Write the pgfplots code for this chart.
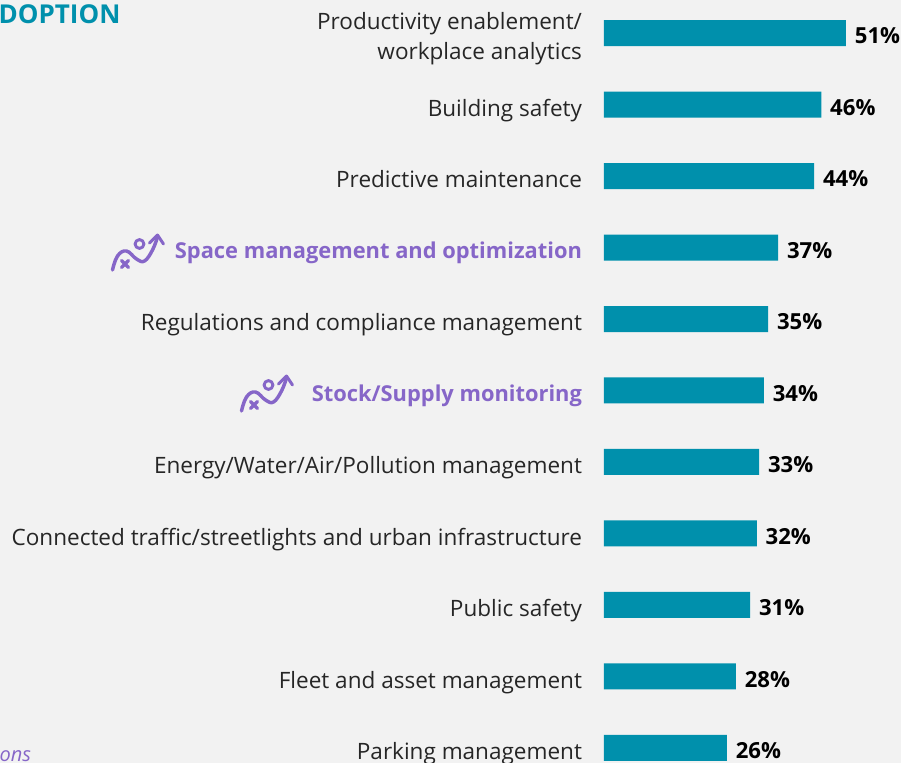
\documentclass[border=0pt]{standalone}
\usepackage{pgfplots}
\pgfplotsset{compat=1.18}
\usepackage{fontspec}
\setmainfont{Open Sans}
\definecolor{bg}{HTML}{F2F2F2}
\definecolor{teal}{HTML}{0090AC}
\definecolor{ink}{HTML}{262626}
\definecolor{lilac}{HTML}{8666C8}
% every one-line label gets the same height and depth, so all centre alike
\newcommand{\lb}[1]{\vphantom{Ay}#1}
\newcommand{\hl}[1]{\lb{\textcolor{lilac}{\fontsize{16.4}{22.5}\selectfont\bfseries #1}}}
% little route icon beside the highlighted labels, offset in px
\newcommand{\routeicon}[2]{%
  \begin{scope}[x=.75pt,y=-.75pt,shift={(#1,#2)},draw=lilac,line width=2.6pt,line cap=round,line join=round]
    \draw plot[smooth,tension=.7] coordinates {(0,0) (5,-14) (14,-19) (24,-11) (32,-9) (40,-20) (45,-33)};
    \draw[line width=2.2pt] (37,-27) -- (45,-35) -- (51,-26);
    \draw[line width=2.2pt] (27,-26) circle (4.4);
    \draw[line width=2.4pt] (9,-9.5) -- (16,-2.5) (16,-9.5) -- (9,-2.5);
  \end{scope}}
\begin{document}
\begin{tikzpicture}
\clip (0,0) rectangle (675.75pt,-572.25pt);
\fill[bg] (0,0) rectangle (675.75pt,-572.25pt);
\routeicon{112.5}{270}
\routeicon{241.5}{411}
\node[anchor=base east,inner sep=0pt,text=teal,font=\fontsize{19.5}{22}\selectfont\bfseries] at (90.5pt,-17.5pt) {ADOPTION};
\node[anchor=base east,inner sep=0pt,text=lilac,font=\fontsize{15}{16}\selectfont\itshape] at (23.5pt,-571pt) {ons};
\begin{axis}[
  at={(453pt,-572.25pt)},anchor=south west,
  scale only axis,width=222.75pt,height=572.25pt,
  xmin=0,xmax=62.6,ymin=-0.4615,ymax=10.21,
  y dir=reverse,
  axis line style={draw=none},
  major tick length=0pt,
  xtick=\empty,
  ytick={0,...,10},
  yticklabels={
    {Productivity enablement/\\workplace analytics},
    \lb{Building safety},
    \lb{Predictive maintenance},
    \hl{Space management and optimization},
    \lb{Regulations and compliance management},
    \hl{Stock/Supply monitoring},
    \lb{Energy/Water/Air/Pollution management},
    \lb{Connected traffic/streetlights and urban infrastructure},
    \lb{Public safety},
    \lb{Fleet and asset management},
    \lb{Parking management}},
  y tick label style={align=right,inner sep=0pt,xshift=-16.3pt,yshift=-4.4pt,text=ink,
    font=\fontsize{16.9}{22.5}\selectfont},
  clip=false,
  xbar,bar shift=0pt,bar width=19.5pt,
  point meta=x,
  nodes near coords={\pgfmathprintnumber[fixed,precision=0,assume math mode=true]{\pgfplotspointmeta}\%},
  nodes near coords align={horizontal},
  every node near coord/.append style={text=black,inner sep=0pt,xshift=6.5pt,yshift=-2.3pt,
    font=\fontsize{16.6}{18}\selectfont\bfseries},
]
\addplot[draw=none,fill=teal] coordinates {
  (51.0,0) (45.8,1) (44.3,2) (36.7,3) (34.6,4) (33.7,5)
  (32.7,6) (32.2,7) (30.8,8) (27.8,9) (25.9,10)};
\end{axis}
\end{tikzpicture}
\end{document}
